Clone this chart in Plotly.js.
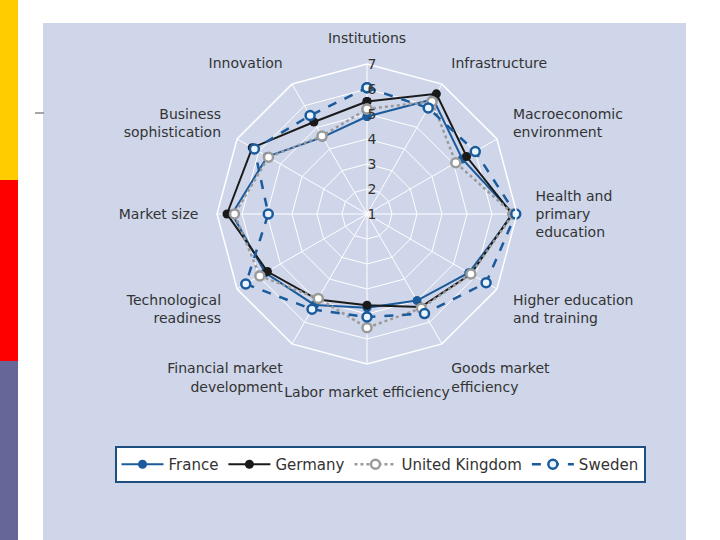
<!DOCTYPE html>
<html>
<head>
<meta charset="utf-8">
<script src="https://cdn.plot.ly/plotly-3.0.1.min.js"></script>
<style>html,body{margin:0;padding:0;background:#fff;}#chart{width:720px;height:540px;}</style>
</head>
<body>
<div id="chart"></div>
<script>
const categories = [
  "Institutions", "Infrastructure", "Macroeconomic<br>environment",
  "Health and<br>primary<br>education", "Higher education<br>and training",
  "Goods market<br>efficiency", "Labor market efficiency",
  "Financial market<br>development", "Technological<br>readiness",
  "Market size", "Business<br>sophistication", "Innovation"
];
const france  = [4.9, 6.3, 5.4, 6.85, 5.7, 5.0, 4.75, 5.2, 5.7, 6.4, 5.6, 4.55];
const germany = [5.5, 6.55, 5.6, 6.8, 5.8, 5.3, 4.65, 4.95, 5.6, 6.6, 6.3, 5.25];
const uk      = [5.2, 6.2, 5.1, 6.85, 5.8, 5.35, 5.55, 4.9, 5.95, 6.3, 5.55, 4.6];
const sweden  = [6.05, 5.9, 6.0, 6.95, 6.5, 5.6, 5.12, 5.4, 6.6, 4.95, 6.2, 5.55];
const radialTicks = [1, 2, 3, 4, 5, 6, 7];

function closed(a) { return a.concat([a[0]]); }
const theta = closed(categories);

const traces = [
  {name: "France", r: closed(france), theta: theta, type: "scatterpolar", mode: "lines+markers",
   line: {color: "#1b5b9b", width: 2}, marker: {color: "#1b5b9b", size: 9}},
  {name: "Germany", r: closed(germany), theta: theta, type: "scatterpolar", mode: "lines+markers",
   line: {color: "#1a1a1a", width: 2}, marker: {color: "#1a1a1a", size: 9}},
  {name: "United Kingdom", r: closed(uk), theta: theta, type: "scatterpolar", mode: "lines+markers",
   line: {color: "#9a9a9a", width: 2.5, dash: "dot"},
   marker: {color: "#ffffff", size: 9, line: {color: "#9a9a9a", width: 2.5}}},
  {name: "Sweden", r: closed(sweden), theta: theta, type: "scatterpolar", mode: "lines+markers",
   line: {color: "#1b5b9b", width: 2.5, dash: "dash"},
   marker: {color: "#e8f4ff", size: 9, line: {color: "#1b5b9b", width: 2.5}}}
];

const W = 720, H = 540;
const cx = 367, cy = 214, R = 150;
const layout = {
  width: W, height: H,
  margin: {l: 0, r: 0, t: 0, b: 0},
  paper_bgcolor: "#ffffff",
  font: {family: "DejaVu Sans, Liberation Sans, sans-serif", color: "#333333", size: 13},
  showlegend: true,
  shapes: [
    {type: "rect", xref: "paper", yref: "paper", x0: 43/W, x1: 686/W, y0: 0, y1: 1 - 23/H,
     fillcolor: "#cfd6ea", line: {width: 0}, layer: "below"},
    {type: "rect", xref: "paper", yref: "paper", x0: 0, x1: 18/W, y0: 1 - 180/H, y1: 1,
     fillcolor: "#ffcc00", line: {width: 0}, layer: "below"},
    {type: "rect", xref: "paper", yref: "paper", x0: 0, x1: 18/W, y0: 1 - 361/H, y1: 1 - 180/H,
     fillcolor: "#ff0000", line: {width: 0}, layer: "below"},
    {type: "rect", xref: "paper", yref: "paper", x0: 0, x1: 18/W, y0: 0, y1: 1 - 361/H,
     fillcolor: "#666699", line: {width: 0}, layer: "below"},
    {type: "line", xref: "paper", yref: "paper", x0: 35/W, x1: 44/W, y0: 1 - 113/H, y1: 1 - 113/H,
     line: {color: "#888888", width: 1.5}, layer: "below"}
  ],
  polar: {
    domain: {x: [(cx - R)/W, (cx + R)/W], y: [1 - (cy + R)/H, 1 - (cy - R)/H]},
    bgcolor: "rgba(0,0,0,0)",
    gridshape: "linear",
    radialaxis: {
      range: [1, 7], tickvals: radialTicks, ticktext: radialTicks.map(String),
      angle: 90, side: "clockwise", tickangle: 90,
      showline: false, gridcolor: "#ffffff", gridwidth: 1,
      ticks: "", tickfont: {size: 14, color: "#333333"}
    },
    angularaxis: {
      direction: "clockwise", rotation: 90,
      gridcolor: "#ffffff", linecolor: "#ffffff", linewidth: 1.5, showline: true,
      ticks: "outside", ticklen: 15, tickcolor: "rgba(0,0,0,0)",
      tickfont: {size: 14, color: "#333333"}
    }
  },
  legend: {
    orientation: "h", x: 380/W, xanchor: "center", y: 1 - 446/H, yanchor: "top",
    bgcolor: "#ffffff", bordercolor: "#1f4e80", borderwidth: 2,
    font: {size: 15, color: "#333333"}, itemwidth: 42
  }
};

Plotly.newPlot("chart", traces, layout, {displayModeBar: false, staticPlot: true});
</script>
</body>
</html>
